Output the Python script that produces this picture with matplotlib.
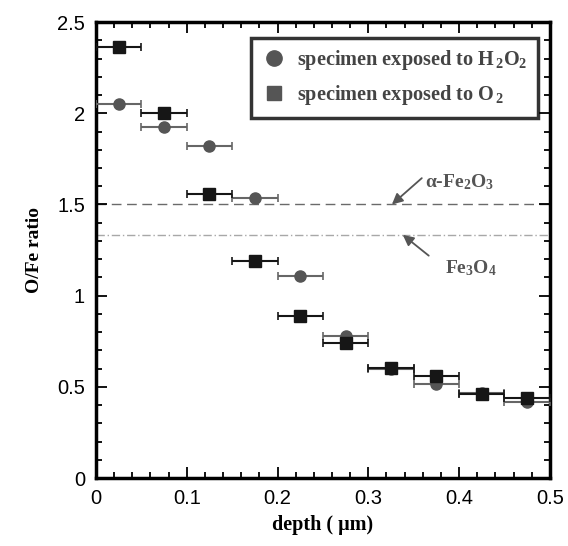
import matplotlib
matplotlib.use("Agg")
import matplotlib.pyplot as plt
from matplotlib.lines import Line2D
from matplotlib.ticker import MultipleLocator, FormatStrFormatter

depth = [0.025, 0.075, 0.125, 0.175, 0.225, 0.275, 0.325, 0.375, 0.425, 0.475]
depth_err = [0.025] * 10
h2o2 = [2.05, 1.925, 1.82, 1.535, 1.11, 0.78, 0.60, 0.515, 0.465, 0.415]
o2 = [2.365, 2.00, 1.56, 1.19, 0.89, 0.74, 0.605, 0.56, 0.46, 0.44]
fe2o3_ratio = 1.5
fe3o4_ratio = 4 / 3

serif = "Liberation Serif"
sans = "Liberation Sans"

plt.rcParams["font.family"] = [sans, "DejaVu Sans"]
plt.rcParams["mathtext.fontset"] = "custom"
plt.rcParams["mathtext.rm"] = "Liberation Serif:bold"
plt.rcParams["mathtext.it"] = "Liberation Serif:bold"
plt.rcParams["mathtext.bf"] = "Liberation Serif:bold"

fig = plt.figure(figsize=(5.68, 5.46), dpi=100)
ax = fig.add_axes([0.169, 0.1245, 0.799, 0.835])

ax.axhline(fe2o3_ratio, color="#6a6a6a", lw=1.0, ls=(0, (7, 4)), zorder=1)
ax.axhline(fe3o4_ratio, color="#a8a8a8", lw=1.0, ls=(0, (6, 2, 1, 2)), zorder=1)

ax.errorbar(depth, h2o2, xerr=depth_err, fmt="o", color="#555555", ms=8,
            ecolor="#666666", elinewidth=1.5, capsize=3, capthick=1.2, zorder=3)
ax.errorbar(depth, o2, xerr=depth_err, fmt="s", color="#161616", ms=8.5,
            ecolor="#161616", elinewidth=1.5, capsize=3, capthick=1.2, zorder=4)

ax.set_xlim(0, 0.5)
ax.set_ylim(0, 2.5)
ax.xaxis.set_major_locator(MultipleLocator(0.1))
ax.xaxis.set_minor_locator(MultipleLocator(0.02))
ax.yaxis.set_major_locator(MultipleLocator(0.5))
ax.yaxis.set_minor_locator(MultipleLocator(0.1))
ax.xaxis.set_major_formatter(FormatStrFormatter("%g"))
ax.yaxis.set_major_formatter(FormatStrFormatter("%g"))
ax.tick_params(which="both", direction="in", top=True, right=True, width=1.3)
ax.tick_params(which="major", length=8, labelsize=14.5, pad=8)
ax.tick_params(which="minor", length=4)
for sp in ax.spines.values():
    sp.set_linewidth(2.5)

ax.set_xlabel("depth ( \u03bcm)", fontfamily=serif, fontweight="bold", fontsize=14.5, labelpad=5)
ax.set_ylabel("O/Fe ratio", fontfamily=serif, fontweight="bold", fontsize=14, labelpad=10)

handles = [
    Line2D([], [], marker="o", ls="none", color="#555555", ms=11),
    Line2D([], [], marker="s", ls="none", color="#555555", ms=10),
]
leg = ax.legend(handles, ["specimen exposed to H$_{\\,2}$O$_2$",
                          "specimen exposed to O$_{\\,2}$"],
                loc="upper right", bbox_to_anchor=(0.974, 0.965), borderaxespad=0,
                prop={"family": serif, "weight": "bold", "size": 14.6},
                frameon=True, fancybox=False, edgecolor="black",
                borderpad=0.5, labelspacing=0.55, handletextpad=0.5, handlelength=1.3)
leg.get_frame().set_linewidth(2.5)
for t in leg.get_texts():
    t.set_color("#444444")

ax.annotate("\u03b1-Fe$_2$O$_3$", xy=(0.326, fe2o3_ratio), xytext=(0.362, 1.62),
            fontfamily=serif, fontweight="bold", fontsize=14, color="#555555",
            va="center", ha="left",
            arrowprops=dict(arrowstyle="-|>", color="#555555", lw=1.3,
                            mutation_scale=16, shrinkA=0, shrinkB=0,
                            relpos=(0, 0.85)))
ax.annotate("Fe$_3$O$_4$", xy=(0.338, fe3o4_ratio), xytext=(0.384, 1.15),
            fontfamily=serif, fontweight="bold", fontsize=14, color="#555555",
            va="center", ha="left",
            arrowprops=dict(arrowstyle="-|>", color="#555555", lw=1.3,
                            mutation_scale=16, shrinkA=12, shrinkB=0,
                            relpos=(0, 0.5)))

fig.savefig("out.png", dpi=100)
